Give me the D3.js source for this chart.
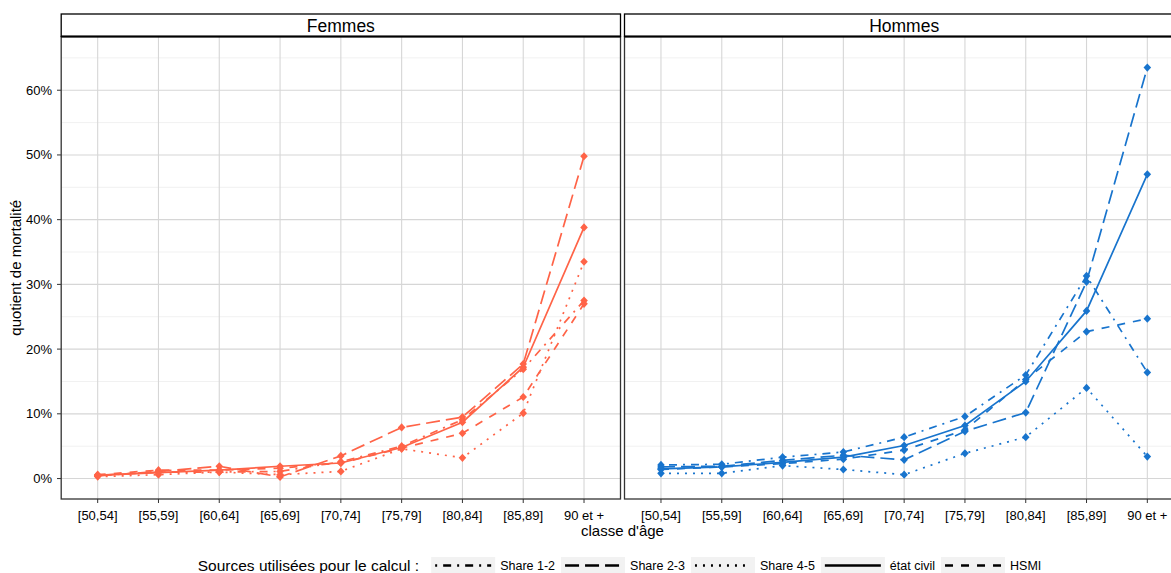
<!DOCTYPE html>
<html>
<head>
<meta charset="utf-8">
<script src="https://cdn.jsdelivr.net/npm/d3@7"></script>
<style>
  body { margin: 0; background: #fff; }
  svg { display: block; }
  text { font-family: "Liberation Sans", Arial, sans-serif; fill: #000; }
</style>
</head>
<body>
<svg id="chart" width="1171" height="573"></svg>
<script>
// Age classes on the x axis
const ageClasses = ["[50,54]", "[55,59]", "[60,64]", "[65,69]", "[70,74]", "[75,79]", "[80,84]", "[85,89]", "90 et +"];
// Facets
const panels = ["Femmes", "Hommes"];
// Data sources (legend order)
const sources = ["Share 1-2", "Share 2-3", "Share 4-5", "état civil", "HSMI"];
// Y axis ticks (percent)
const yTicks = [0, 10, 20, 30, 40, 50, 60];
const yMinorTicks = [5, 15, 25, 35, 45, 55, 65];

// Mortality quotients, in percent — women
const femmesShare12 = [0.5, 1.0, 1.0, 1.1, 2.6, 5.0, 9.1, 16.9, 27.5];
const femmesShare23 = [0.4, 1.1, 1.9, 0.25, 3.5, 7.9, 9.5, 17.7, 49.8];
const femmesShare45 = [0.3, 0.6, 1.0, 0.6, 1.1, 4.6, 3.2, 10.1, 33.5];
const femmesEtatCivil = [0.5, 0.9, 1.3, 1.9, 2.4, 4.8, 8.7, 17.2, 38.8];
const femmesHSMI = [0.6, 1.3, 1.3, 1.6, 2.4, 4.7, 7.0, 12.6, 27.0];

// Mortality quotients, in percent — men
const hommesShare12 = [2.1, 2.2, 3.3, 4.1, 6.4, 9.6, 16.0, 31.3, 16.4];
const hommesShare23 = [1.8, 1.9, 2.8, 3.6, 2.9, 7.3, 10.2, 30.4, 63.5];
const hommesShare45 = [0.8, 0.8, 2.0, 1.4, 0.6, 3.9, 6.4, 14.0, 3.4];
const hommesEtatCivil = [1.5, 1.8, 2.5, 3.3, 5.1, 8.2, 15.0, 25.9, 47.0];
const hommesHSMI = [1.4, 1.8, 2.3, 3.0, 4.4, 7.5, 15.3, 22.7, 24.7];

const seriesByPanel = {
  "Femmes": [femmesShare12, femmesShare23, femmesShare45, femmesEtatCivil, femmesHSMI],
  "Hommes": [hommesShare12, hommesShare23, hommesShare45, hommesEtatCivil, hommesHSMI]
};
const panelColor = { "Femmes": "#FF6347", "Hommes": "#1874CD" };

// Line types, one per source (dash arrays in px)
const dashes = {
  "Share 1-2": "2,6,8,6",
  "Share 2-3": "14,6",
  "Share 4-5": "2,6",
  "état civil": null,
  "HSMI": "8,8"
};

const svg = d3.select("#chart");

const stripTop = 14, panelTop = 36.5, panelBottom = 499;
const panelX = { "Femmes": [61.2, 620.5], "Hommes": [624.5, 1183.8] };

const y = d3.scaleLinear().domain([-3.16, 68.3]).range([panelBottom, panelTop]);

const diamond = "M0,-4.1L3.8,0L0,4.1L-3.8,0Z";

panels.forEach(p => {
  const [x0, x1] = panelX[p];
  const x = d3.scalePoint().domain(ageClasses).range([x0, x1]).padding(0.6);
  const g = svg.append("g");

  // panel background + grid
  g.append("rect").attr("x", x0).attr("y", panelTop).attr("width", x1 - x0).attr("height", panelBottom - panelTop).attr("fill", "#fff");
  g.selectAll(".ymin").data(yMinorTicks).join("line")
    .attr("x1", x0).attr("x2", x1).attr("y1", d => y(d)).attr("y2", d => y(d))
    .attr("stroke", "#f1f1f1").attr("stroke-width", 1);
  g.selectAll(".ymaj").data(yTicks).join("line")
    .attr("x1", x0).attr("x2", x1).attr("y1", d => y(d)).attr("y2", d => y(d))
    .attr("stroke", "#d6d6d6").attr("stroke-width", 1.1);
  g.selectAll(".xmaj").data(ageClasses).join("line")
    .attr("x1", d => x(d)).attr("x2", d => x(d)).attr("y1", panelTop).attr("y2", panelBottom)
    .attr("stroke", "#d6d6d6").attr("stroke-width", 1.1);

  // series
  const line = d3.line().x((d, i) => x(ageClasses[i])).y(d => y(d));
  const color = panelColor[p];
  seriesByPanel[p].forEach((vals, si) => {
    const path = g.append("path").datum(vals).attr("d", line)
      .attr("fill", "none").attr("stroke", color).attr("stroke-width", 1.7);
    if (dashes[sources[si]]) path.attr("stroke-dasharray", dashes[sources[si]]);
  });
  seriesByPanel[p].forEach(vals => {
    g.selectAll(null).data(vals).join("path")
      .attr("d", diamond)
      .attr("transform", (d, i) => `translate(${x(ageClasses[i])},${y(d)})`)
      .attr("fill", color);
  });

  // panel border
  g.append("rect").attr("x", x0).attr("y", panelTop).attr("width", x1 - x0).attr("height", panelBottom - panelTop)
    .attr("fill", "none").attr("stroke", "#333").attr("stroke-width", 1.3);

  // strip
  g.append("rect").attr("x", x0).attr("y", stripTop).attr("width", x1 - x0).attr("height", panelTop - stripTop)
    .attr("fill", "#fff").attr("stroke", "#000").attr("stroke-width", 1.3);
  g.append("line").attr("x1", x0).attr("x2", x1).attr("y1", panelTop).attr("y2", panelTop)
    .attr("stroke", "#000").attr("stroke-width", 2);
  g.append("text").attr("x", (x0 + x1) / 2).attr("y", 32.3).attr("text-anchor", "middle")
    .attr("font-size", 17.5).attr("fill", "#222").text(p);

  // x axis ticks and labels
  g.selectAll(".xt").data(ageClasses).join("line")
    .attr("x1", d => x(d)).attr("x2", d => x(d)).attr("y1", panelBottom).attr("y2", panelBottom + 4)
    .attr("stroke", "#333").attr("stroke-width", 1);
  g.selectAll(".xl").data(ageClasses).join("text")
    .attr("x", d => x(d)).attr("y", 520).attr("text-anchor", "middle")
    .attr("font-size", 13).attr("fill", "#1a1a1a").text(d => d);
});

// y axis ticks and labels (left panel only)
const yAxisG = svg.append("g");
yAxisG.selectAll("line").data(yTicks).join("line")
  .attr("x1", 57).attr("x2", 61).attr("y1", d => y(d)).attr("y2", d => y(d))
  .attr("stroke", "#333").attr("stroke-width", 1);
yAxisG.selectAll("text").data(yTicks).join("text")
  .attr("x", 52).attr("y", d => y(d) + 4.5).attr("text-anchor", "end")
  .attr("font-size", 13).attr("fill", "#1a1a1a").text(d => d + "%");

// axis titles
svg.append("text").attr("transform", `translate(21,${(panelTop + panelBottom) / 2}) rotate(-90)`)
  .attr("text-anchor", "middle").attr("font-size", 15).text("quotient de mortalité");
svg.append("text").attr("x", (61.2 + 1183.8) / 2).attr("y", 536).attr("text-anchor", "middle")
  .attr("font-size", 15).text("classe d'âge");

// legend (linetype), centred under the plot
const lg = svg.append("g");
const legendTitle = lg.append("text").attr("y", 571).attr("font-size", 15.5).text("Sources utilisées pour le calcul :");
const keyW = 64, keyH = 17;
const items = sources.map(s => {
  const t = lg.append("text").attr("y", 570).attr("font-size", 12.5).text(s);
  return { s, t, w: t.node().getComputedTextLength() };
});
const titleW = legendTitle.node().getComputedTextLength();
let total = titleW + 12;
items.forEach(it => { total += keyW + 5 + it.w + 6; });
let cx = (61.2 + 1183.8) / 2 - total / 2;
legendTitle.attr("x", cx);
cx += titleW + 12;
items.forEach(it => {
  lg.append("rect").attr("x", cx).attr("y", 557).attr("width", keyW).attr("height", keyH).attr("fill", "#f2f2f2");
  const l = lg.append("line").attr("x1", cx + 4).attr("x2", cx + keyW - 4).attr("y1", 565.5).attr("y2", 565.5)
    .attr("stroke", "#000").attr("stroke-width", 2.6);
  if (dashes[it.s]) l.attr("stroke-dasharray", dashes[it.s]);
  it.t.attr("x", cx + keyW + 5);
  cx += keyW + 5 + it.w + 6;
});
</script>
</body>
</html>
